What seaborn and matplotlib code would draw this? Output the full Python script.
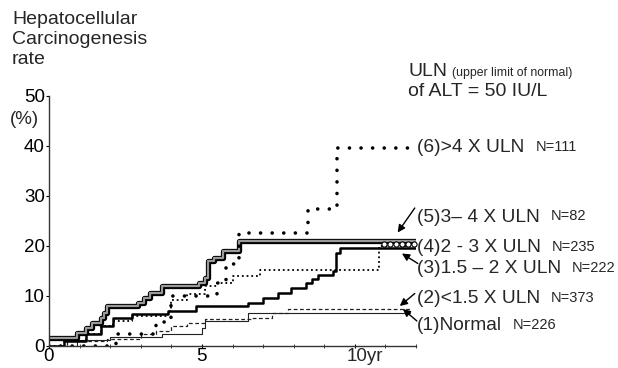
import matplotlib
matplotlib.use("Agg")
import matplotlib.pyplot as plt
import seaborn as sns
import pandas as pd

# ---- data (years, cumulative %) ----
t1 = [0, 0.9, 2.0, 3.7, 5.0, 5.1, 6.5, 11.8]
p1 = [0, 1.2, 1.8, 2.4, 3.6, 5.0, 6.6, 6.6]

t2 = [0, 0.6, 1.9, 3.0, 3.5, 4.0, 4.5, 5.1, 6.6, 7.3, 7.8, 11.8]
p2 = [0, 1.0, 1.4, 2.4, 3.0, 4.0, 4.6, 5.4, 5.6, 6.6, 7.4, 7.4]

t3 = [0, 0.5, 1.2, 1.7, 2.1, 2.7, 3.9, 4.0, 4.5, 5.1, 5.5, 6.0, 6.9, 10.8, 12.0]
p3 = [0, 1.0, 2.5, 4.0, 5.0, 6.0, 7.0, 9.3, 10.4, 12.0, 12.7, 14.0, 15.3, 20.0, 20.0]

t4 = [0, 0.5, 1.2, 1.7, 2.1, 2.7, 3.9, 4.8, 6.5, 7.0, 7.5, 7.9, 8.4, 8.6, 8.8, 9.3, 9.4, 9.5, 12.0]
p4 = [0, 1.0, 2.5, 4.0, 5.6, 6.4, 7.0, 8.0, 8.7, 9.7, 10.7, 11.7, 12.7, 13.5, 14.2, 15.0, 18.7, 19.7, 19.7]

t5 = [0, 0.9, 1.2, 1.4, 1.7, 1.8, 1.9, 2.9, 3.1, 3.3, 3.7, 4.9, 5.1, 5.2, 5.4, 5.7, 6.2, 12.0]
p5 = [1.6, 2.6, 3.6, 4.6, 5.6, 6.6, 8.0, 8.6, 9.7, 10.7, 12.0, 12.7, 13.7, 17.0, 17.7, 19.0, 21.1, 21.1]

t6 = [0, 2.2, 3.5, 4.0, 5.5, 5.8, 6.2, 8.46, 9.41, 11.95]
p6 = [0, 2.4, 4.8, 10.0, 12.7, 16.5, 22.7, 27.4, 39.6, 39.6]

censor_t = [10.95, 11.15, 11.35, 11.55, 11.75, 11.92]
censor_p = [20.4, 20.4, 20.4, 20.4, 20.4, 20.4]

labels = ["(6)>4 X ULN", "(5)3\u2013 4 X ULN", "(4)2 - 3 X ULN",
          "(3)1.5 \u2013 2 X ULN", "(2)<1.5 X ULN", "(1)Normal"]
ns = ["N=111", "N=82", "N=235", "N=222", "N=373", "N=226"]
label_y = [39.6, 25.8, 19.7, 15.5, 9.5, 4.0]

sns.set_style("ticks")
plt.rcParams["font.family"] = ["Liberation Sans", "DejaVu Sans"]

W, H = 618, 368
fig = plt.figure(figsize=(W / 100, H / 100), dpi=100)
ax = fig.add_axes([49 / W, 1 - 346 / H, (416 - 49) / W, (346 - 96) / H])

kw = dict(ax=ax, drawstyle="steps-post", estimator=None, legend=False)

def df(t, p):
    return pd.DataFrame({"t": t, "p": p})

# (1) Normal - thin solid
sns.lineplot(data=df(t1, p1), x="t", y="p", color="#222222", lw=0.8, **kw)
# (2) dashed thin
l2 = sns.lineplot(data=df(t2, p2), x="t", y="p", color="#222222", lw=0.9, **kw).lines[-1]
l2.set_dashes((3, 2))
# (3) small dotted
l3 = sns.lineplot(data=df(t3, p3), x="t", y="p", color="black", lw=1.3, **kw).lines[-1]
l3.set_dashes((1, 1.6))
# (4) solid black
sns.lineplot(data=df(t4, p4), x="t", y="p", color="black", lw=1.8, **kw)
# (5) double line: black outline + gray core
sns.lineplot(data=df(t5, p5), x="t", y="p", color="black", lw=3.8, **kw)
sns.lineplot(data=df(t5, p5), x="t", y="p", color="#9a9a9a", lw=1.6, **kw)
# (6) big round dots
l6 = sns.lineplot(data=df(t6, p6), x="t", y="p", color="black", lw=2.6, **kw).lines[-1]
l6.set_dashes((0.01, 3.2))
l6.set_dash_capstyle("round")

# censor marks
ax.scatter(censor_t, censor_p, marker="o", s=14, facecolor="white",
           edgecolor="black", lw=0.8, zorder=5, clip_on=False)

ax.set_xlim(0, 12)
ax.set_ylim(0, 50)
ax.set_xlabel("")
ax.set_ylabel("")
ax.set_xticks([0, 5, 10])
ax.set_xticklabels(["0", "5", ""])
ax.set_xticks(range(0, 13), minor=True)
ax.set_yticks([0, 10, 20, 30, 40, 50])
ax.tick_params(axis="both", labelsize=13.5, length=2, width=0.8, pad=1, colors="black")
ax.tick_params(axis="x", which="both", direction="inout", length=3, pad=0)
for s in ["top", "right"]:
    ax.spines[s].set_visible(False)
for s in ["left", "bottom"]:
    ax.spines[s].set_linewidth(1.0)
    ax.spines[s].set_color("#333333")

ax.annotate("10yr", xy=(9.74, 0), xycoords=("data", "axes fraction"),
            xytext=(0, -1.5), textcoords="offset points",
            ha="left", va="top", fontsize=13.5, annotation_clip=False)

# labels on the right
for lab, n, y in zip(labels, ns, label_y):
    t = ax.text(12.03, y, lab, fontsize=13.8, va="center", ha="left", clip_on=False)
    ax.annotate(n, xy=(1, 0.12), xycoords=t, xytext=(8, 0), textcoords="offset points",
                fontsize=10.5, va="bottom", ha="left", annotation_clip=False)

arrow = dict(arrowstyle="-|>", color="black", lw=1.0, mutation_scale=11,
             shrinkA=0, shrinkB=0)
ax.annotate("", xy=(11.4, 22.7), xytext=(11.96, 27.6), arrowprops=arrow, annotation_clip=False)
ax.annotate("", xy=(11.54, 18.5), xytext=(12.06, 16.5), arrowprops=arrow, annotation_clip=False)
ax.annotate("", xy=(11.47, 8.0), xytext=(11.96, 10.5), arrowprops=arrow, annotation_clip=False)
ax.annotate("", xy=(11.57, 7.4), xytext=(12.03, 5.0), arrowprops=arrow, annotation_clip=False)

# title-like texts
fig.text(12 / W, 1 - 11 / H, "Hepatocellular\nCarcinogenesis\nrate", fontsize=14,
         ha="left", va="top", linespacing=1.25)
fig.text(10 / W, 1 - 120 / H, "(%)", fontsize=13.5, ha="left", va="center")
fig.text(408 / W, 1 - 72 / H, "ULN", fontsize=14, ha="left", va="center")
fig.text(452 / W, 1 - 73 / H, "(upper limit of normal)", fontsize=8.8, ha="left", va="center")
fig.text(408 / W, 1 - 92 / H, "of ALT = 50 IU/L", fontsize=14, ha="left", va="center")

fig.savefig("out.png", dpi=100)
